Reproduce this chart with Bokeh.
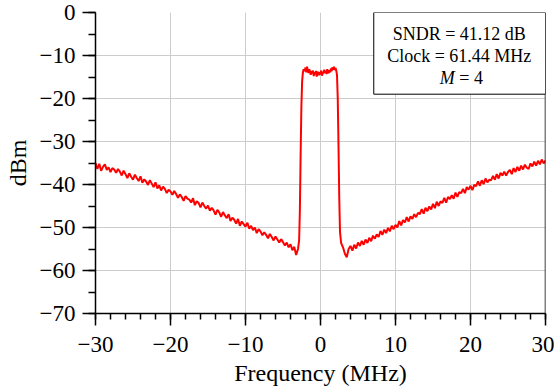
import numpy as np
from bokeh.plotting import figure
from bokeh.models import FixedTicker, BoxAnnotation, Label, Span, CustomJSTickFormatter
from bokeh.embed import file_html
from bokeh.resources import INLINE

# ---- data ----
# left noise floor, f = -30 ... -3.0 MHz (0.25 MHz steps)
left_freq = list(np.round(np.arange(-30.0, -2.99, 0.25), 2))
left_dbm = [
    -35.0, -36.4, -35.2, -36.8, -35.9, -35.3, -36.6, -36.0, -37.1, -36.2,
    -36.5, -37.3, -36.4, -37.0, -37.9, -36.8, -37.6, -38.5, -37.4, -38.2,
    -38.9, -37.7, -38.5, -39.2, -38.1, -39.6, -38.8, -39.3, -40.1, -39.0,
    -39.8, -40.6, -39.5, -40.9, -40.2, -41.4, -40.5, -41.0, -42.0, -41.2,
    -41.6, -42.4, -41.5, -42.2, -43.1, -42.3, -42.9, -43.8, -42.7, -43.3,
    -43.5, -44.2, -43.2, -44.8, -43.9, -44.3, -45.3, -44.2, -45.0, -45.6,
    -44.9, -46.1, -45.4, -46.0, -47.0, -45.9, -46.5, -47.5, -46.4, -47.2,
    -47.8, -46.9, -48.5, -47.7, -48.2, -49.1, -48.0, -49.6, -48.6, -49.2,
    -49.8, -48.9, -50.3, -49.6, -50.6, -50.0, -51.3, -50.4, -50.9, -51.8,
    -51.1, -51.7, -52.5, -51.5, -52.2, -53.0, -52.1, -52.8, -53.5, -52.7,
    -53.4, -54.2, -53.5, -54.6, -53.9, -55.3, -54.5, -56.4, -55.0,
]
# lower band edge
edge_lo_freq = [-2.85, -2.75, -2.65, -2.55, -2.45, -2.35, -2.25]
edge_lo_dbm = [-53.0, -46.0, -33.0, -22.0, -16.0, -14.0, -13.2]
# in-band signal, f = -2.1 ... 2.1 MHz (0.1 MHz steps)
band_freq = list(np.round(np.arange(-2.1, 2.11, 0.1), 2))
band_dbm = [
    -13.6, -12.8, -13.9, -12.6, -13.4, -14.1, -13.2, -13.7, -14.5, -13.6,
    -14.2, -13.5, -14.8, -13.9, -14.4, -13.6, -14.9, -14.1, -13.8, -14.6,
    -13.9, -14.4, -13.5, -14.7, -13.8, -14.2, -13.3, -14.0, -13.6, -14.3,
    -13.2, -13.8, -14.1, -13.4, -13.9, -13.0, -13.6, -12.7, -13.3, -12.6,
    -13.4, -12.9, -13.5,
]
# upper band edge
edge_hi_freq = [2.2, 2.3, 2.4, 2.5, 2.6, 2.75, 2.9]
edge_hi_dbm = [-14.5, -20.0, -31.0, -43.0, -51.0, -53.6, -54.2]
# right noise floor, f = 3.0 ... 30 MHz (0.25 MHz steps)
right_freq = list(np.round(np.arange(3.0, 30.01, 0.25), 2))
right_dbm = [
    -54.6, -56.1, -56.9, -55.0, -54.3, -55.4, -54.0, -54.9, -53.5,
    -54.3, -53.1, -54.0, -52.8, -53.6, -52.4, -53.2, -51.9, -52.6, -51.6,
    -52.2, -50.8, -51.7, -50.5, -51.3, -50.1, -50.9, -49.6, -50.4, -49.4,
    -50.0, -48.5, -49.5, -48.3, -48.8, -47.6, -48.6, -47.4, -48.0, -46.9,
    -47.6, -46.6, -46.9, -45.7, -46.8, -45.4, -46.2, -45.1, -45.8, -44.5,
    -45.5, -44.0, -45.0, -43.9, -44.3, -43.1, -44.2, -42.9, -43.4, -42.5,
    -43.3, -41.9, -42.9, -41.8, -42.0, -41.0, -42.0, -40.6, -41.2, -40.3,
    -41.3, -40.1, -40.4, -39.3, -40.3, -39.0, -39.9, -38.6, -39.5, -38.9,
    -39.0, -38.0, -38.9, -37.6, -38.6, -37.3, -37.9, -37.0, -37.9, -37.1,
    -36.6, -37.6, -36.2, -37.1, -35.9, -36.8, -35.6, -36.5, -35.4, -36.1,
    -36.4, -35.1, -35.8, -34.7, -35.6, -34.5, -35.3, -34.2, -35.1, -34.4,
]
freq = left_freq + edge_lo_freq + band_freq + edge_hi_freq + right_freq
dbm = left_dbm + edge_lo_dbm + band_dbm + edge_hi_dbm + right_dbm

x_ticks = [-30, -20, -10, 0, 10, 20, 30]
x_minor = list(range(-30, 31, 2))
y_ticks = [-70, -60, -50, -40, -30, -20, -10, 0]
y_minor = list(range(-70, 1, 5))

info_lines = ["SNDR = 41.12 dB", "Clock = 61.44 MHz"]
m_name, m_value = "M", "= 4"

FONT = "Liberation Serif"

p = figure(width=554, height=391, x_range=(-30, 30), y_range=(-70, 0),
           output_backend="svg", toolbar_location=None,
           min_border_left=95, min_border_right=9, min_border_top=12, min_border_bottom=78)
p.outline_line_color = None
p.background_fill_color = "white"
p.border_fill_color = "white"

fmt = CustomJSTickFormatter(code="return tick < 0 ? '\u2212' + Math.abs(tick) : tick.toString();")
p.xaxis.ticker = FixedTicker(ticks=x_ticks, minor_ticks=x_minor)
p.yaxis.ticker = FixedTicker(ticks=y_ticks, minor_ticks=y_minor)
p.xaxis.formatter = fmt
p.yaxis.formatter = fmt

for ax in (p.xaxis, p.yaxis):
    ax.axis_line_color = "black"
    ax.axis_line_width = 1.5
    ax.major_tick_line_color = "black"
    ax.minor_tick_line_color = "black"
    ax.major_tick_line_width = 1.5
    ax.minor_tick_line_width = 1.5
    ax.major_tick_in = 0
    ax.minor_tick_in = 0
    ax.major_label_text_font = FONT
    ax.major_label_text_font_size = "23px"
    ax.major_label_text_color = "black"
    ax.axis_label_text_font = FONT
    ax.axis_label_text_font_size = "24px"
    ax.axis_label_text_font_style = "normal"
    ax.axis_label_text_color = "black"

p.xaxis.major_tick_out = 12
p.xaxis.minor_tick_out = 6
p.xaxis.major_label_standoff = 11
p.xaxis.axis_label_standoff = 5
p.yaxis.major_tick_out = 13
p.yaxis.minor_tick_out = 7
p.yaxis.major_label_standoff = 7
p.yaxis.axis_label_standoff = 6
p.xaxis.axis_label = "Frequency (MHz)"
p.yaxis.axis_label = "dBm"

p.grid.grid_line_color = "#cccccc"
p.grid.grid_line_width = 1

p.line(freq, dbm, line_color="red", line_width=2)

p.add_layout(Span(location=30, dimension="height", line_color="black", line_width=1.5))

p.add_layout(BoxAnnotation(left=7.1, right=30, top=0, bottom=-19,
                           fill_color="white", fill_alpha=1.0,
                           line_color="black", line_width=1, line_alpha=1.0))
for txt, yy in zip(info_lines, [-5.0, -10.2]):
    p.add_layout(Label(x=18.5, y=yy, text=txt, text_align="center", text_baseline="middle",
                       text_font=FONT, text_font_size="18px", text_color="black"))
p.add_layout(Label(x=17.9, y=-15.3, text=m_name, text_align="right", text_baseline="middle",
                   text_font=FONT, text_font_size="18px", text_font_style="italic", text_color="black"))
p.add_layout(Label(x=18.5, y=-15.3, text=m_value, text_align="left", text_baseline="middle",
                   text_font=FONT, text_font_size="18px", text_color="black"))

open("out.html", "w").write(file_html(p, INLINE))
